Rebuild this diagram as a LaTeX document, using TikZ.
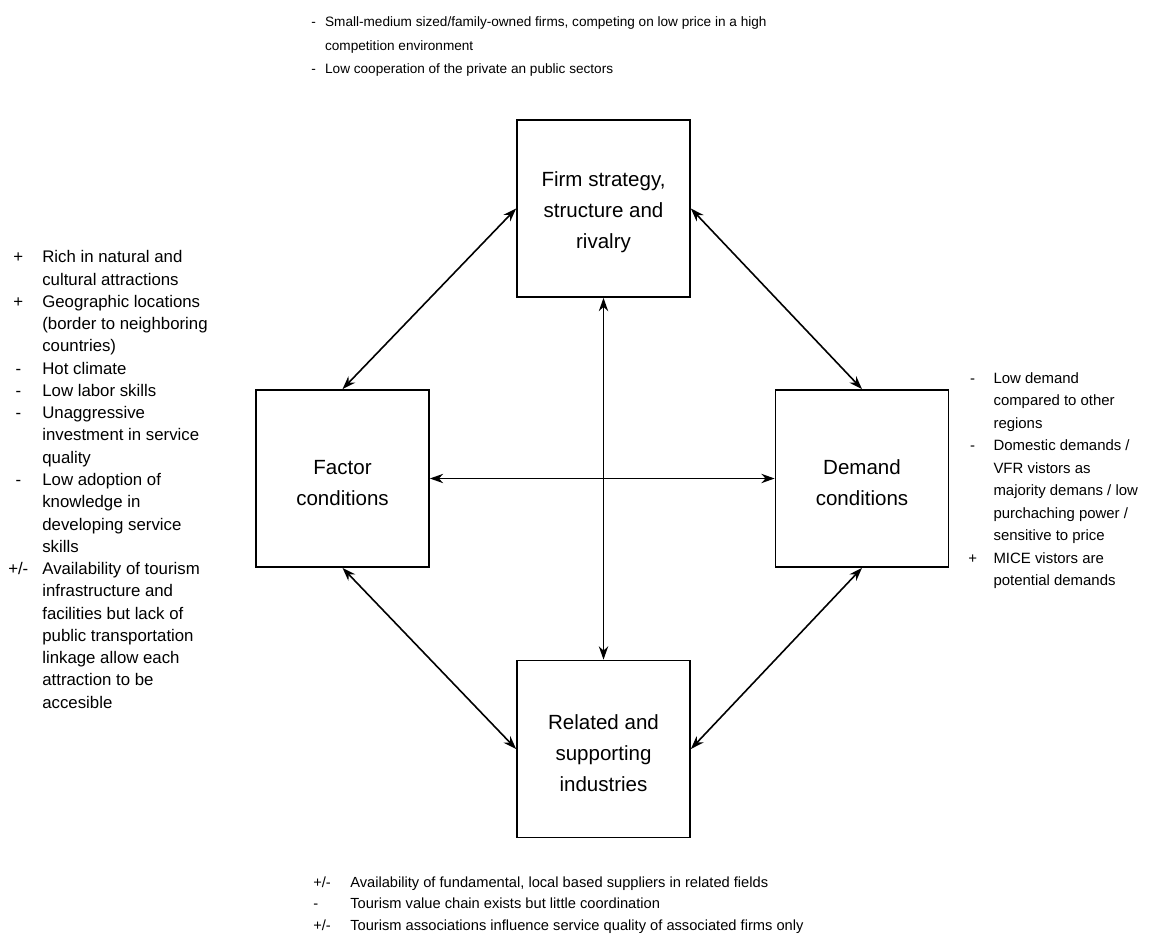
\documentclass[tikz,border=0pt]{standalone}
\usepackage{fontspec}
\setmainfont{Liberation Sans}
\usetikzlibrary{arrows.meta,positioning}

% extra room above the first line of a box label
\newcommand{\boxstrut}{\rule{0pt}{17pt}}

\begin{document}
\begin{tikzpicture}[
        x=0.75pt, y=-0.75pt,
        >={Stealth[length=10pt,width=7pt]},
        factorbox/.style={
            rectangle,
            draw=black,
            line width=1.3pt,
            minimum width=129.75pt,
            minimum height=132.75pt,
            inner sep=0pt,
            align=center,
            font=\fontsize{15.4}{23.25}\selectfont
        },
        notes/.style={
            anchor=north west,
            inner sep=0pt,
            align=left
        },
        link/.style={
            <->,
            line width=1.2pt
        }
    ]
    \useasboundingbox (0,0) rectangle (1166,944);

    % Diamond boxes
    \node[factorbox] (firm) at (603.5,208.5)
        {\boxstrut Firm strategy,\\structure and\\rivalry};
    \node[factorbox] (factor) at (342.5,478.5)
        {\boxstrut Factor\\conditions};
    \node[factorbox] (demand) at (862,478.5)
        {\boxstrut Demand\\conditions};
    \node[factorbox] (related) at (603.5,749)
        {\boxstrut Related and\\supporting\\industries};

    % Notes: firm strategy
    \node[notes, font=\fontsize{10.2}{17.6}\selectfont] (firmnotes) at (311,10) {%
        \begin{tabular}{@{}c@{\hspace{7pt}}l@{}}
            - & Small-medium sized/family-owned firms, competing on low price in a high\\
              & competition environment\\
            - & Low cooperation of the private an public sectors
        \end{tabular}};

    % Notes: factor conditions
    \node[notes, font=\fontsize{12.6}{16.7}\selectfont] (factornotes) at (8,247) {%
        \begin{tabular}{@{}c@{\hspace{10.5pt}}l@{}}
            +   & Rich in natural and\\
                & cultural attractions\\
            +   & Geographic locations\\
                & (border to neighboring\\
                & countries)\\
            -   & Hot climate\\
            -   & Low labor skills\\
            -   & Unaggressive\\
                & investment in service\\
                & quality\\
            -   & Low adoption of\\
                & knowledge in\\
                & developing service\\
                & skills\\
            +/- & Availability of tourism\\
                & infrastructure and\\
                & facilities but lack of\\
                & public transportation\\
                & linkage allow each\\
                & attraction to be\\
                & accesible
        \end{tabular}};

    % Notes: demand conditions
    \node[notes, font=\fontsize{11.2}{16.9}\selectfont] (demandnotes) at (968,367) {%
        \begin{tabular}{@{}c@{\hspace{12.4pt}}l@{}}
            - & Low demand\\
              & compared to other\\
              & regions\\
            - & Domestic demands /\\
              & VFR vistors as\\
              & majority demans / low\\
              & purchaching power /\\
              & sensitive to price\\
            + & MICE vistors are\\
              & potential demands
        \end{tabular}};

    % Notes: related industries
    \node[notes, font=\fontsize{11}{16.1}\selectfont] (relatednotes) at (313,872) {%
        \begin{tabular}{@{}l@{\hspace{14.6pt}}l@{}}
            +/- & Availability of fundamental, local based suppliers in related fields\\
            -   & Tourism value chain exists but little coordination\\
            +/- & Tourism associations influence service quality of associated firms only
        \end{tabular}};

    % Links between the four boxes
    \draw[link] (firm.west) -- (factor.north);
    \draw[link] (firm.east) -- (demand.north);
    \draw[link] (factor.south) -- (related.west);
    \draw[link] (demand.south) -- (related.east);
    \draw[link] (factor.east) -- (demand.west);
    \draw[link] (firm.south) -- (related.north);

\end{tikzpicture}
\end{document}
